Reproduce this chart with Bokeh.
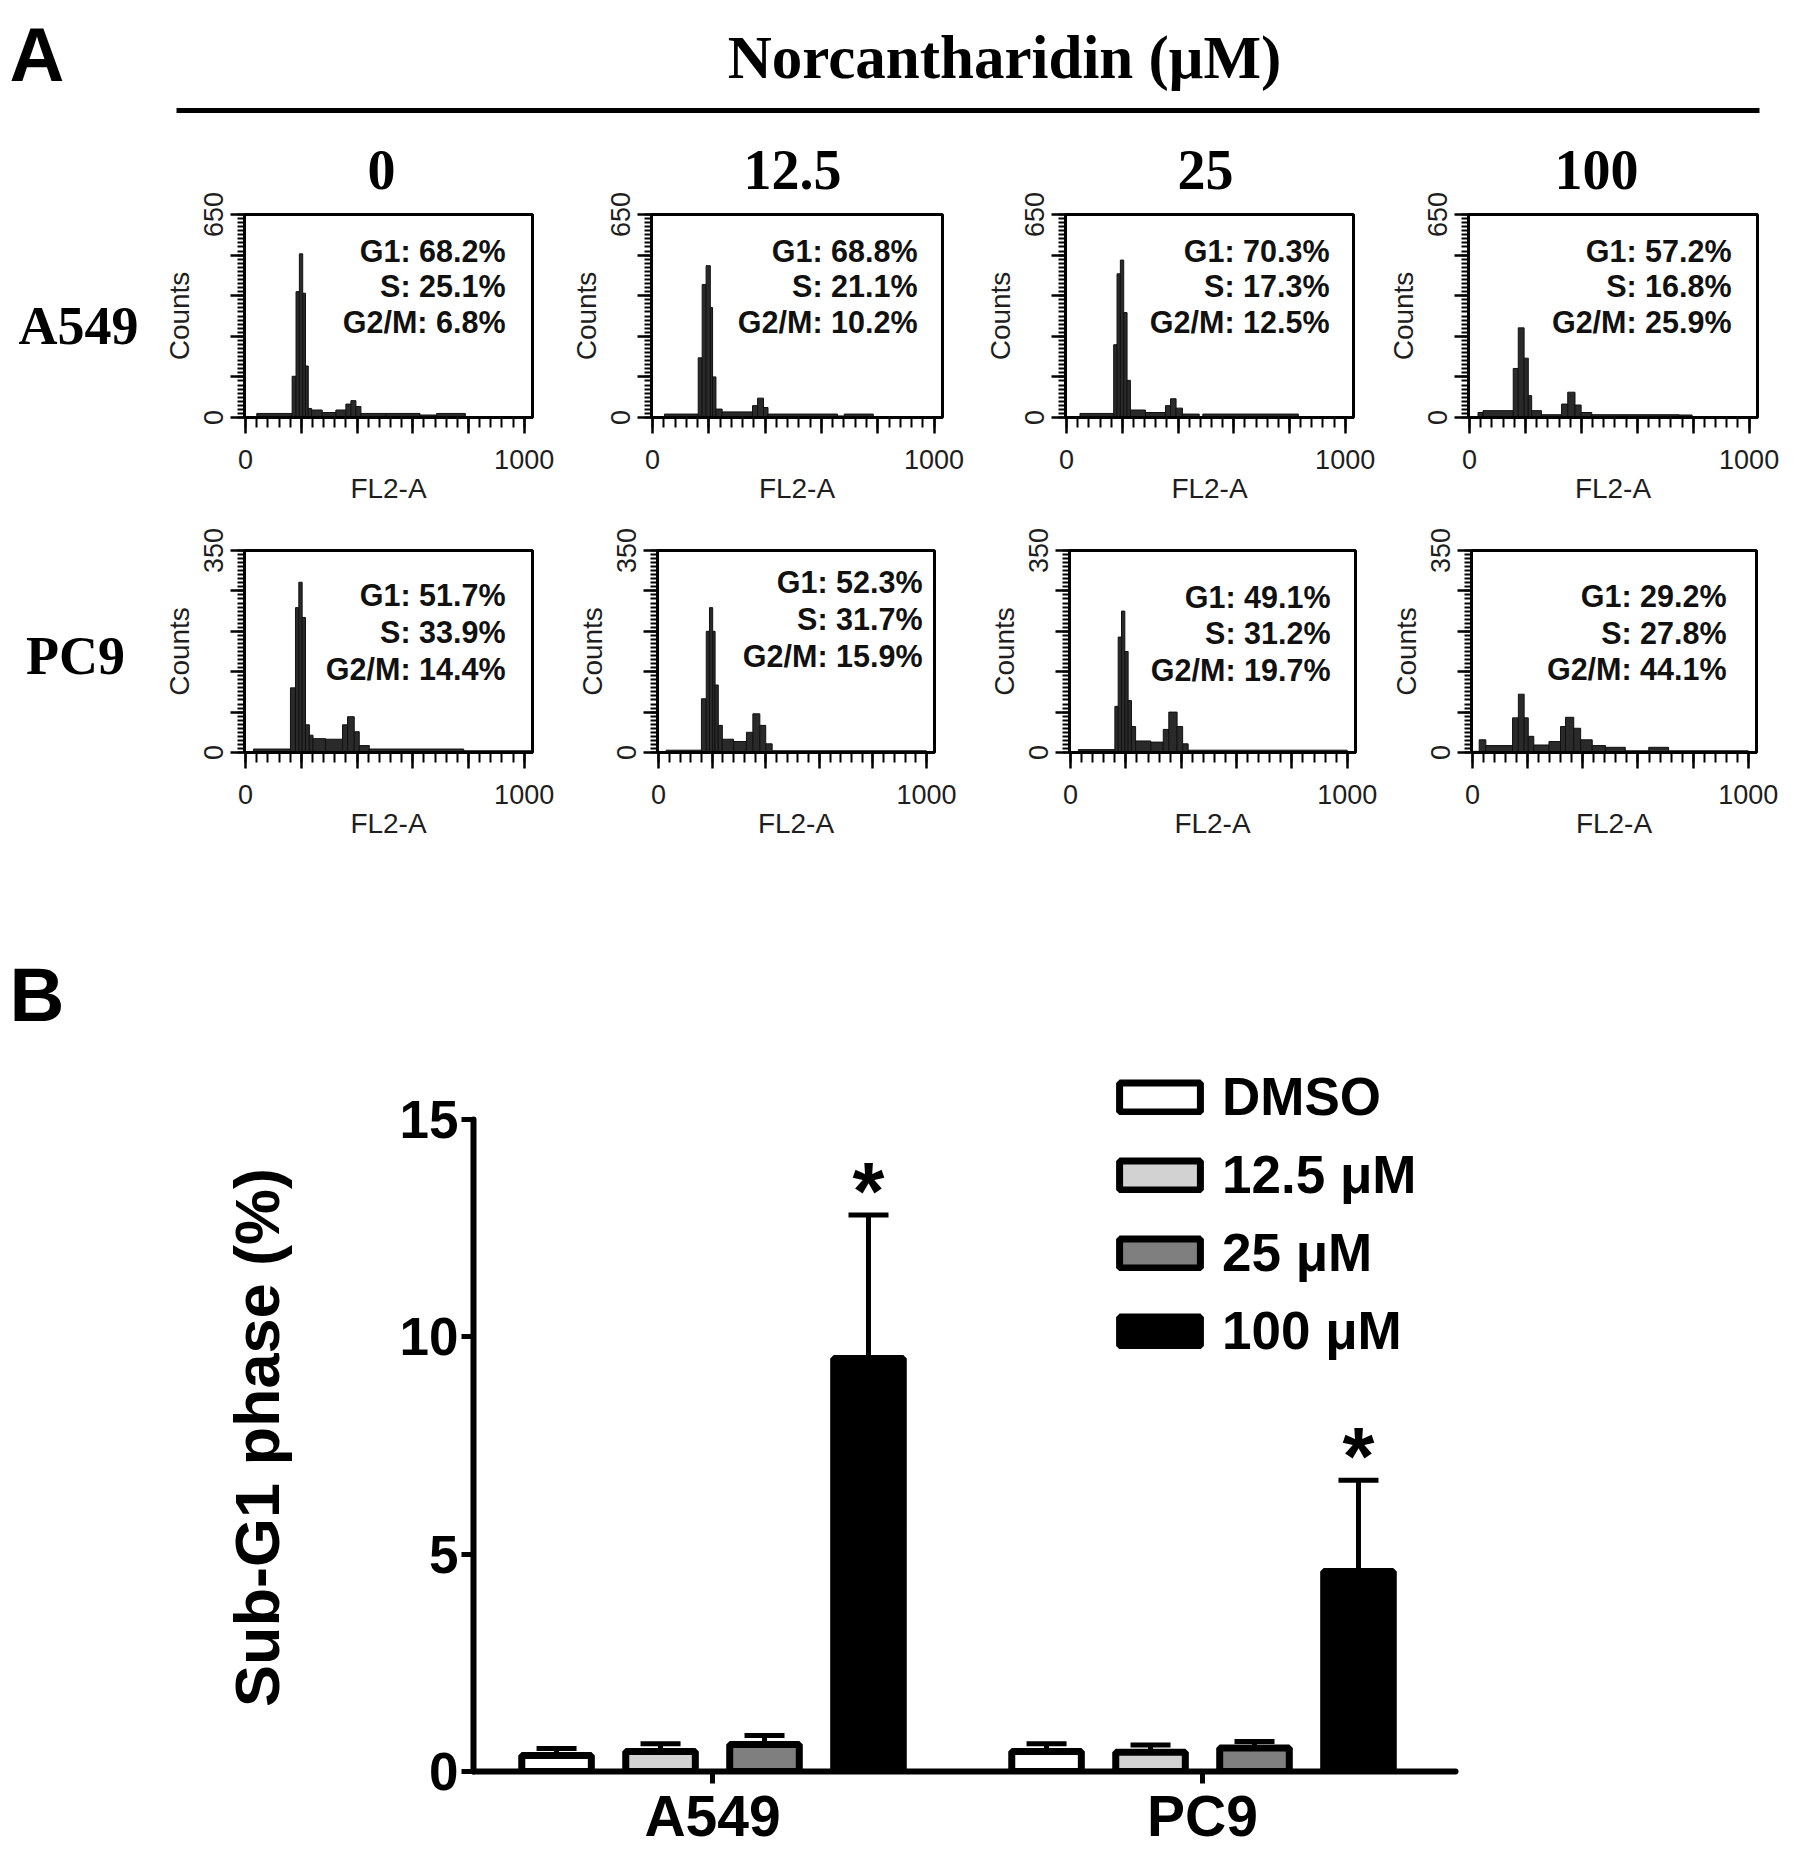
from math import pi
from bokeh.plotting import figure
from bokeh.layouts import column, row
from bokeh.models import (Range1d, FixedTicker, ColumnDataSource, Whisker, TeeHead,
                          Legend, LegendItem)
from bokeh.core.properties import value
from bokeh.embed import file_html
from bokeh.resources import INLINE

# ---------------------------------------------------------------- data
dose_labels = ["0", "12.5", "25", "100"]
cell_lines = ["A549", "PC9"]

# cell-cycle distribution (%) printed on each histogram
a549_g1 = [68.2, 68.8, 70.3, 57.2]
a549_s = [25.1, 21.1, 17.3, 16.8]
a549_g2m = [6.8, 10.2, 12.5, 25.9]
pc9_g1 = [51.7, 52.3, 49.1, 29.2]
pc9_s = [33.9, 31.7, 31.2, 27.8]
pc9_g2m = [14.4, 15.9, 19.7, 44.1]

count_max = [650, 350]

# DNA-content histograms: FL2-A bin edges and counts
a549_0_edges = [40, 167, 181, 193, 205, 215, 225, 237, 275, 324, 360, 378, 396, 414, 505, 626, 686, 789]
a549_0_counts = [13, 132, 403, 524, 398, 165, 29, 24, 16, 24, 43, 54, 35, 13, 13, 8, 13]
a549_125_edges = [42, 162, 176, 190, 205, 213, 225, 247, 355, 373, 394, 410, 657, 681, 784]
a549_125_counts = [11, 191, 426, 486, 352, 130, 27, 18, 38, 62, 32, 11, 5, 11]
a549_25_edges = [48, 169, 181, 193, 205, 217, 229, 283, 355, 373, 393, 416, 476, 489, 832]
a549_25_counts = [13, 233, 460, 504, 336, 119, 24, 16, 38, 60, 30, 11, 3, 11]
a549_100_edges = [30, 48, 156, 174, 195, 210, 222, 257, 329, 351, 377, 399, 437, 749, 796]
a549_100_counts = [16, 22, 157, 287, 190, 70, 22, 9, 43, 81, 40, 16, 9, 8]

pc9_0_edges = [28, 161, 179, 191, 203, 215, 229, 242, 287, 348, 366, 390, 408, 444, 783, 1030]
pc9_0_counts = [6, 112, 251, 295, 234, 48, 30, 24, 23, 48, 62, 36, 12, 6, 3]
pc9_125_edges = [28, 160, 178, 190, 202, 211, 223, 238, 280, 328, 352, 378, 400, 424, 1000]
pc9_125_counts = [4, 93, 210, 251, 210, 117, 47, 23, 19, 35, 67, 47, 15, 3]
pc9_25_edges = [28, 160, 172, 184, 196, 208, 220, 235, 290, 335, 355, 385, 405, 425, 1000]
pc9_25_counts = [5, 80, 200, 245, 175, 90, 45, 20, 18, 40, 70, 45, 15, 4]
pc9_100_edges = [0, 24, 48, 145, 166, 187, 202, 222, 277, 319, 337, 367, 392, 434, 482, 554, 639, 711, 1000]
pc9_100_counts = [2, 22, 12, 60, 101, 60, 28, 13, 19, 45, 61, 42, 22, 12, 9, 3, 9, 3]

# Panel B: sub-G1 phase (%) mean and SD, per treatment, for [A549, PC9]
treatments = ["DMSO", "12.5 μM", "25 μM", "100 μM"]
subg1_dmso = [0.37, 0.46]
subg1_dmso_sd = [0.16, 0.18]
subg1_125 = [0.46, 0.44]
subg1_125_sd = [0.18, 0.17]
subg1_25 = [0.62, 0.54]
subg1_25_sd = [0.21, 0.15]
subg1_100 = [9.5, 4.6]
subg1_100_sd = [3.3, 2.1]
signif_100 = ["*", "*"]

# ---------------------------------------------------------------- layout helpers
W, H = 1779, 1850
SANS = "Liberation Sans"
SERIF = "Liberation Serif"


def px(v):
    return f"{v}px"


def make_fig(box, frame, x_range, y_range, **kw):
    x0, y0, x1, y1 = box
    fx0, fy0, fx1, fy1 = frame
    p = figure(width=x1 - x0, height=y1 - y0, x_range=x_range, y_range=y_range,
               output_backend="svg", toolbar_location=None,
               min_border_left=fx0 - x0, min_border_right=x1 - fx1,
               min_border_top=fy0 - y0, min_border_bottom=y1 - fy1, **kw)
    p.grid.visible = False
    p.background_fill_color = "white"
    p.border_fill_color = "white"
    return p


def canvas(box):
    x0, y0, x1, y1 = box
    p = figure(width=x1 - x0, height=y1 - y0,
               x_range=Range1d(x0, x1), y_range=Range1d(y1, y0),
               x_axis_type=None, y_axis_type=None, output_backend="svg",
               toolbar_location=None, min_border=0, outline_line_color=None)
    p.background_fill_color = "white"
    p.border_fill_color = "white"
    return p


def put_text(p, xs, ys, texts, font, size, align="center", angle=0.0):
    p.text(x=xs, y=ys, text=texts, text_font=value(font), text_font_style="bold",
           text_font_size=px(size), text_align=align, text_baseline="middle",
           text_color="black", angle=angle)


# ---------------------------------------------------------------- header (panel A)
TOP_ROW1 = 115
hdr = canvas((0, 0, W, TOP_ROW1))
put_text(hdr, [9], [54], ["A"], SANS, 76, align="left")
put_text(hdr, [1004], [57], ["Norcantharidin (μM)"], SERIF, 61)
hdr.segment(x0=[176], y0=[110], x1=[1759], y1=[110], line_width=5, line_color="black")


def row_label(box, label, cx, cy):
    p = canvas(box)
    put_text(p, [cx], [cy], [label], SERIF, 54)
    return p


def hist_fig(box, frame, edges, counts, ymax, lines, offs, right_px, title=None, title_dx=0):
    XS, XE = -4, 1030
    p = make_fig(box, frame, Range1d(XS, XE), Range1d(0, ymax))
    if title is not None:
        p.title.text = title
        p.title.text_font = SERIF
        p.title.text_font_style = "bold"
        p.title.text_font_size = px(56)
        p.title.text_color = "black"
        p.title.align = "left"
        p.title.vertical_align = "top"
        p.title.offset = title_dx
        p.title.standoff = 48
    p.outline_line_color = "black"
    p.outline_line_width = 3
    p.quad(left=edges[:-1], right=edges[1:], bottom=0, top=counts,
           fill_color="#2a2a2a", line_color="#111111", line_width=1)
    xa = p.xaxis[0]
    ya = p.yaxis[0]
    xa.ticker = FixedTicker(ticks=[0, 200, 400, 600, 800, 1000],
                            minor_ticks=list(range(0, 1001, 40)))
    xa.major_label_overrides = {200: "", 400: "", 600: "", 800: ""}
    step = ymax // 5
    ya.ticker = FixedTicker(ticks=list(range(0, ymax + 1, step)),
                            minor_ticks=list(range(0, ymax + 1, step // 10)))
    ya.major_label_overrides = {t: "" for t in range(step, ymax, step)}
    ya.major_label_orientation = "vertical"
    for ax in (xa, ya):
        ax.axis_line_width = 3
        ax.axis_line_color = "black"
        ax.major_tick_line_width = 2.5
        ax.minor_tick_line_width = 2
        ax.major_tick_in = 0
        ax.minor_tick_in = 0
        ax.major_label_text_font = SANS
        ax.major_label_text_font_size = px(27)
        ax.major_label_text_color = "#1e1e1e"
        ax.axis_label_text_font = SANS
        ax.axis_label_text_font_size = px(28)
        ax.axis_label_text_font_style = "normal"
        ax.axis_label_text_color = "#1e1e1e"
    xa.major_tick_out = 16
    xa.minor_tick_out = 10
    xa.major_label_standoff = 16
    xa.axis_label = "FL2-A"
    xa.axis_label_standoff = 1
    ya.major_tick_out = 14
    ya.minor_tick_out = 7
    ya.major_label_standoff = 8
    ya.axis_label = "Counts"
    ya.axis_label_standoff = 6

    fw = frame[2] - frame[0]
    fh = frame[3] - frame[1]
    xt = XE - right_px * (XE - XS) / fw
    ys = [ymax * (1 - o / fh) for o in offs]
    p.text(x=[xt] * 3, y=ys, text=lines, text_font=value(SANS), text_font_style="bold",
           text_font_size=px(30.5), text_align="right", text_baseline="middle",
           text_color="#111111")
    return p


row1_boxes = [(160, TOP_ROW1, 567, 512), (567, TOP_ROW1, 981, 512),
              (981, TOP_ROW1, 1384, 512), (1384, TOP_ROW1, W, 512)]
row1_frames = [(244, 214, 532, 417), (651, 214, 942, 417), (1065, 214, 1353, 417), (1467, 214, 1757, 417)]
row1_title_dx = [123, 92, 112, 86]
row1_offs = [(36, 71, 107)] * 4
row1_right = [27, 25, 24, 26]
row2_boxes = [(160, 512, 573, 850), (573, 512, 985, 850), (985, 512, 1387, 850), (1387, 512, W, 850)]
row2_frames = [(244, 550, 532, 752), (657, 550, 934, 752), (1069, 550, 1355, 752), (1470, 550, 1756, 752)]
row2_offs = [(44, 81, 118), (31, 68, 105), (46, 82, 119), (45, 82, 118)]
row2_right = [27, 12, 25, 30]

a549_hist = [(a549_0_edges, a549_0_counts), (a549_125_edges, a549_125_counts),
             (a549_25_edges, a549_25_counts), (a549_100_edges, a549_100_counts)]
pc9_hist = [(pc9_0_edges, pc9_0_counts), (pc9_125_edges, pc9_125_counts),
            (pc9_25_edges, pc9_25_counts), (pc9_100_edges, pc9_100_counts)]

row1 = [column(row_label((0, TOP_ROW1, 160, 512), cell_lines[0], 78, 325))]
for k in range(4):
    lines = [f"G1: {a549_g1[k]:.1f}%", f"S: {a549_s[k]:.1f}%", f"G2/M: {a549_g2m[k]:.1f}%"]
    e, c = a549_hist[k]
    row1.append(hist_fig(row1_boxes[k], row1_frames[k], e, c, count_max[0], lines,
                         row1_offs[k], row1_right[k], title=dose_labels[k],
                         title_dx=row1_title_dx[k]))

row2 = [column(row_label((0, 512, 160, 850), cell_lines[1], 75, 655))]
for k in range(4):
    lines = [f"G1: {pc9_g1[k]:.1f}%", f"S: {pc9_s[k]:.1f}%", f"G2/M: {pc9_g2m[k]:.1f}%"]
    e, c = pc9_hist[k]
    row2.append(hist_fig(row2_boxes[k], row2_frames[k], e, c, count_max[1], lines,
                         row2_offs[k], row2_right[k]))

# ---------------------------------------------------------------- panel B
left_b = canvas((0, 850, 330, H))
put_text(left_b, [9], [994], ["B"], SANS, 76, align="left")
put_text(left_b, [256], [1437], ["Sub-G1 phase (%)"], SANS, 63, angle=pi / 2)

bar = make_fig((330, 850, W, H), (473, 1045, 1455, 1771),
               Range1d(0.0122, 2.0163), Range1d(0, 16.7))
bar.outline_line_color = None

pitch = 0.2122
bw = 0.142
series = [(treatments[0], subg1_dmso, subg1_dmso_sd, "white"),
          (treatments[1], subg1_125, subg1_125_sd, "#d2d2d2"),
          (treatments[2], subg1_25, subg1_25_sd, "#7f7f7f"),
          (treatments[3], subg1_100, subg1_100_sd, "black")]
items = []
last_src = None
for j, (lab, m, sd, col) in enumerate(series):
    xs = [i + 0.5 + (j - 1.5) * pitch for i in range(len(cell_lines))]
    src = ColumnDataSource(dict(x=xs, top=m, upper=[a + b for a, b in zip(m, sd)]))
    w = Whisker(base="x", lower="top", upper="upper", source=src, dimension="height",
                line_width=5, line_color="black",
                upper_head=TeeHead(size=40, line_width=5, line_color="black"),
                lower_head=None)
    bar.add_layout(w)
    r = bar.vbar(x="x", top="top", bottom=0, width=bw, source=src, fill_color=col,
                 line_color="black", line_width=7)
    items.append(LegendItem(label=lab, renderers=[r]))
    last_src = src

star_src = ColumnDataSource(dict(x=last_src.data["x"], y=last_src.data["upper"], t=signif_100))
bar.text(x="x", y="y", text="t", source=star_src, text_font=value(SANS), text_font_style="bold",
         text_font_size=px(82), text_align="center", text_baseline="middle",
         text_color="black", y_offset=-25)

ya = bar.yaxis[0]
xa = bar.xaxis[0]
ya.ticker = FixedTicker(ticks=[0, 5, 10, 15], minor_ticks=[])
ya.bounds = (0, 15)
xa.ticker = FixedTicker(ticks=[i + 0.5 for i in range(len(cell_lines))], minor_ticks=[])
xa.major_label_overrides = {i + 0.5: name for i, name in enumerate(cell_lines)}
for ax in (xa, ya):
    ax.axis_line_width = 6
    ax.axis_line_color = "black"
    ax.axis_line_cap = "round"
    ax.major_tick_line_width = 5
    ax.major_tick_in = 0
    ax.minor_tick_out = 0
    ax.minor_tick_in = 0
    ax.major_label_text_font = SANS
    ax.major_label_text_font_style = "bold"
    ax.major_label_text_color = "black"
ya.major_tick_out = 12
ya.major_label_text_font_size = px(53)
ya.major_label_standoff = 3
xa.major_tick_out = 12
xa.major_label_text_font_size = px(57)
xa.major_label_standoff = 0

leg = Legend(items=items, location=(1109 - 473, 1771 - 1361),
             orientation="vertical", padding=0, margin=0, spacing=17,
             glyph_width=101, glyph_height=36, label_height=58,
             label_standoff=12, label_text_font=SANS, label_text_font_style="bold",
             label_text_font_size=px(53), label_text_color="black",
             border_line_color=None, background_fill_alpha=0)
bar.add_layout(leg)

layout = column(row(column(hdr)), row(*row1), row(*row2),
                row(column(left_b), column(bar)))

with open("out.html", "w") as f:
    f.write(file_html(layout, INLINE))
